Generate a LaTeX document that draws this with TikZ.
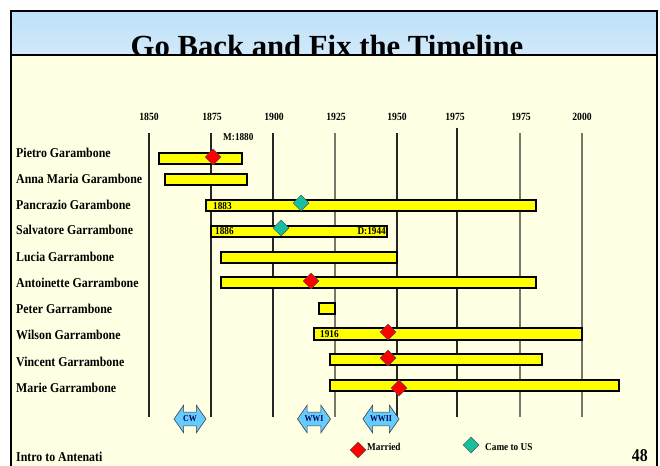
\documentclass[tikz,border=0pt]{standalone}
\usepackage{fontspec}
\setmainfont{Liberation Serif}
\newfontfamily\narrowfont{Liberation Serif}[FakeStretch=0.88]
\usetikzlibrary{shapes.geometric,shapes.arrows}
\definecolor{paper}{HTML}{FFFFE3}
\definecolor{skytop}{HTML}{BEE0F8}
\definecolor{lifeyellow}{HTML}{FFFF00}
\definecolor{wedred}{HTML}{FF0000}
\definecolor{shipteal}{HTML}{17BF9E}
\definecolor{warblue}{HTML}{66CCFF}
\definecolor{grayline}{HTML}{77776C}
\newcommand{\sz}[1]{\fontsize{#1}{#1}\selectfont}
\tikzset{
  who/.style={anchor=base west, inner sep=0pt, font=\narrowfont\bfseries\sz{13.5}},
  year/.style={anchor=base, inner sep=0pt, font=\narrowfont\bfseries\sz{11}},
  note/.style={inner sep=0pt, font=\narrowfont\bfseries\sz{10.5}},
  lifebar/.style={draw=black, line width=1.4pt, fill=lifeyellow},
  yearline/.style={line width=1.1pt, black!85},
  fadeline/.style={line width=1.1pt, grayline},
  mark wed/.style={shape=diamond, draw=black!70, line width=0.5pt, fill=wedred, inner sep=0pt, minimum width=16pt, minimum height=16pt},
  mark ship/.style={shape=diamond, draw=black!70, line width=0.5pt, fill=shipteal, inner sep=0pt, minimum width=16pt, minimum height=16pt},
  war/.style={shape=double arrow, draw=black!75, line width=0.6pt, fill=warblue, text=blue!30!black,
    font=\narrowfont\bfseries\sz{9}, inner xsep=2pt, inner ysep=3.5pt,
    double arrow head extend=7pt, double arrow tip angle=110, minimum height=32pt},
}
\begin{document}
\begin{tikzpicture}[x=1pt,y=-1pt]
  \useasboundingbox (0,0) rectangle (660,465);
  \fill[white] (0,0) rectangle (660,465);

  % slide frame
  \shade[top color=skytop, middle color=white, bottom color=skytop!70] (11,11) rectangle (657,55);
  \fill[paper] (11,55) rectangle (657,467);
  \begin{scope}
    \clip (11,11) rectangle (657,54);
    \node[anchor=base, inner sep=0pt, font=\bfseries\sz{30.7}] (title) at (327,57) {Go Back and Fix the Timeline};
  \end{scope}
  \draw[line width=2pt] (11,467) -- (11,11) -- (657,11) -- (657,467);
  \draw[line width=2pt] (11,55) -- (657,55);

  % years
  \node[year] (y1850) at (149,121) {1850};
  \node[year] (y1875) at (212,121) {1875};
  \node[year] (y1900) at (274,121) {1900};
  \node[year] (y1925) at (336,121) {1925};
  \node[year] (y1950) at (397,121) {1950};
  \node[year] (y1975) at (455,121) {1975};
  \node[year] (y1975b) at (521,121) {1975};
  \node[year] (y2000) at (582,121) {2000};
  \draw[yearline] (149,133) -- (149,417);
  \draw[yearline] (211,133) -- (211,417);
  \draw[yearline] (273,133) -- (273,417);
  \draw[fadeline] (335,133) -- (335,417);
  \draw[yearline] (397,133) -- (397,417);
  \draw[yearline] (457,128) -- (457,417);
  \draw[fadeline] (520,133) -- (520,417);
  \draw[fadeline] (582,133) -- (582,417);

  % names
  \node[who] (pietro) at (16,157.5) {Pietro Garambone};
  \node[who] (anna) at (16,183.5) {Anna Maria Garambone};
  \node[who] (pancrazio) at (16,209.5) {Pancrazio Garambone};
  \node[who] (salvatore) at (16,234.5) {Salvatore Garrambone};
  \node[who] (lucia) at (16,261) {Lucia Garrambone};
  \node[who] (antoinette) at (16,287) {Antoinette Garrambone};
  \node[who] (peter) at (16,313) {Peter Garrambone};
  \node[who] (wilson) at (16,339) {Wilson Garrambone};
  \node[who] (vincent) at (16,366) {Vincent Garrambone};
  \node[who] (marie) at (16,392) {Marie Garrambone};

  % life spans
  \draw[lifebar] (159,153) rectangle (242,164);
  \draw[lifebar] (165,174) rectangle (247,185);
  \draw[lifebar] (206,200) rectangle (536,211);
  \draw[lifebar] (211,226) rectangle (387,237);
  \draw[lifebar] (221,252) rectangle (397,263);
  \draw[lifebar] (221,277) rectangle (536,288);
  \draw[lifebar] (319,303) rectangle (335,314);
  \draw[lifebar] (314,328) rectangle (582,340);
  \draw[lifebar] (330,354) rectangle (542,365);
  \draw[lifebar] (330,380) rectangle (619,391);

  % dates
  \node[note, anchor=base west] (m1880) at (223,140.5) {M:1880};
  \node[note, anchor=base west] (b1883) at (213,209) {1883};
  \node[note, anchor=base west] (b1886) at (215,234) {1886};
  \node[note, anchor=base east] (d1944) at (386,234) {D:1944};
  \node[note, anchor=base west] (b1916) at (320,337.5) {1916};

  % events
  \node[mark wed] (wedpietro) at (213,157) {};
  \node[mark ship] (shippancrazio) at (301,203) {};
  \node[mark ship] (shipsalvatore) at (281,228) {};
  \node[mark wed] (wedantoinette) at (311,281) {};
  \node[mark wed] (wedwilson) at (388,332) {};
  \node[mark wed] (wedvincent) at (388,358) {};
  \node[mark wed] (wedmarie) at (399,388) {};

  % wars
  \node[war] (cw) at (190,419) {CW};
  \node[war] (wwi) at (314,419) {WWI};
  \node[war] (wwii) at (381,419) {WWII};

  % legend
  \node[mark wed] (legwed) at (358,450) {};
  \node[note, anchor=base west] (legwedtext) at (367,450.5) {Married};
  \node[mark ship] (legship) at (471,445) {};
  \node[note, anchor=base west] (legshiptext) at (485,450.5) {Came to US};

  % footer
  \node[who] (course) at (16,461) {Intro to Antenati};
  \node[anchor=base east, inner sep=0pt, font=\narrowfont\bfseries\sz{18}] (page) at (648,461) {48};
\end{tikzpicture}
\end{document}
